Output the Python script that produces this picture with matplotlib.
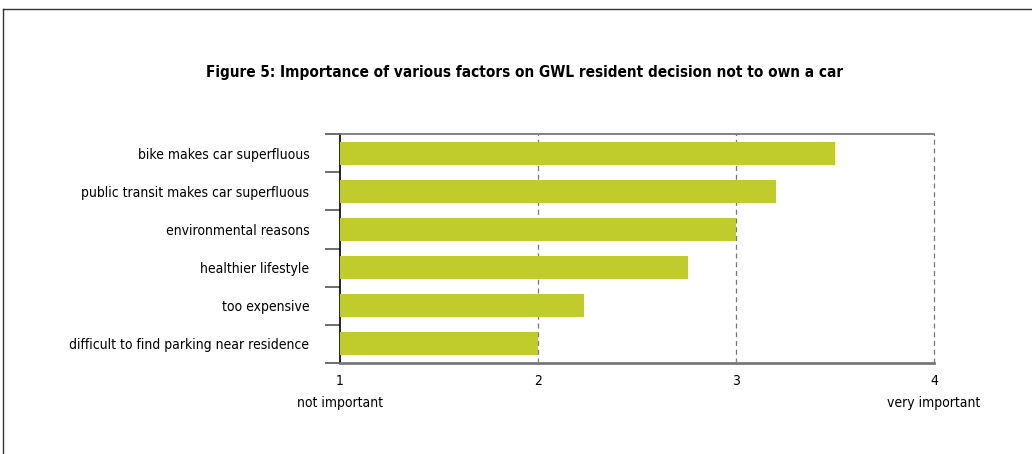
import matplotlib
matplotlib.use("Agg")
import matplotlib.pyplot as plt
from matplotlib.lines import Line2D

plt.rcParams['font.family'] = ['DejaVu Sans']
plt.rcParams['font.stretch'] = 'condensed'

factors = ["bike makes car superfluous",
           "public transit makes car superfluous",
           "environmental reasons",
           "healthier lifestyle",
           "too expensive",
           "difficult to find parking near residence"]
scores = [3.5, 3.2, 3.0, 2.76, 2.23, 2.0]
xticks = [1, 2, 3, 4]
title = "Figure 5: Importance of various factors on GWL resident decision not to own a car"
bar_color = "#bfcc2b"

fig = plt.figure(figsize=(10.32, 4.54), dpi=100)
ax = fig.add_axes([340/1032, 1 - 363/454, 594/1032, 229/454])

y = list(range(len(factors)))
ax.barh(y, [s - 1 for s in scores], left=1, height=0.6, color=bar_color, zorder=3)

ax.set_xlim(1, 4)
ax.set_ylim(len(factors) - 0.5, -0.5)
ax.set_yticks(y)
ax.set_yticklabels(factors, fontsize=10)
ax.set_yticks([i - 0.5 for i in range(len(factors) + 1)], minor=True)
ax.tick_params(axis='y', which='major', length=0, pad=22)
ax.tick_params(axis='y', which='minor', length=11, width=1.2, color='#555555', direction='out')
ax.set_xticks(xticks)
ax.set_xticklabels([str(t) for t in xticks], fontsize=10)
ax.tick_params(axis='x', length=3, direction='in', color='#888888', pad=8)

for t in xticks[1:]:
    ax.axvline(t, color='#777777', lw=0.9, ls=(0, (4, 3)), zorder=1, clip_on=False)

ax.spines['right'].set_visible(False)
ax.spines['top'].set_color('#777777')
ax.spines['top'].set_linewidth(1.3)
ax.spines['bottom'].set_color('#777777')
ax.spines['bottom'].set_linewidth(2)
ax.spines['left'].set_color('black')
ax.spines['left'].set_linewidth(1.2)

ax.text(1, -0.175, "not important", transform=ax.get_xaxis_transform(),
        ha='center', va='center', fontsize=10)
ax.text(4, -0.175, "very important", transform=ax.get_xaxis_transform(),
        ha='center', va='center', fontsize=10)

fig.text(525/1032, 1 - 72/454, title, ha='center', va='center',
         fontsize=11, fontweight='bold')

# frame lines of the page
fig.add_artist(Line2D([3/1032, 3/1032], [0, 1 - 9/454], color='#333333', lw=1))
fig.add_artist(Line2D([3/1032, 1], [1 - 9/454, 1 - 9/454], color='#333333', lw=1))

fig.savefig("out.png", dpi=100)
